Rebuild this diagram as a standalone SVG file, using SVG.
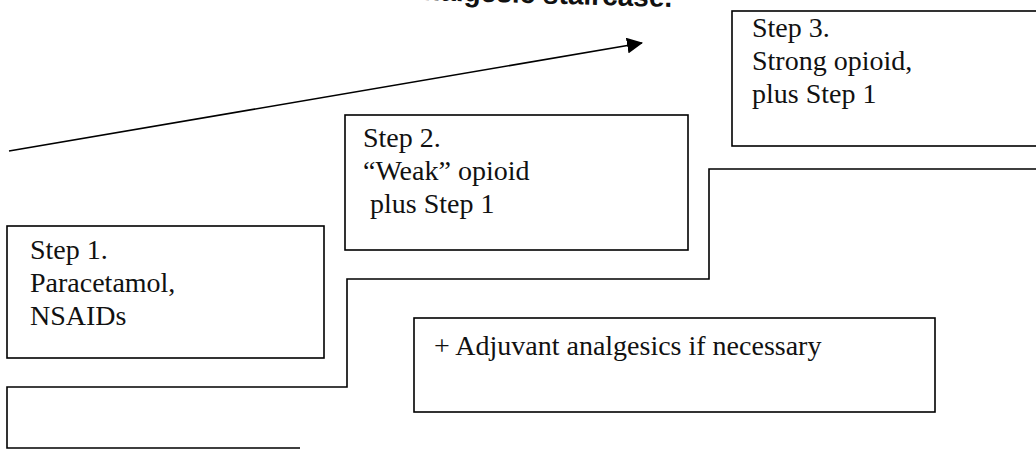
<svg xmlns="http://www.w3.org/2000/svg" width="1036" height="450" viewBox="0 0 1036 450">
<style>
.box{fill:#fff;stroke:#000;stroke-width:1.6}
.t{font-family:"Liberation Serif","Times New Roman",serif;font-size:28px;fill:#111}
.ln{fill:none;stroke:#000;stroke-width:1.6}
.title{font-family:"Liberation Sans",Arial,sans-serif;font-size:28px;font-weight:bold;fill:#111}
</style>
<defs>
<marker id="ah" viewBox="0 0 16 16" refX="15" refY="8" markerWidth="16" markerHeight="16" markerUnits="userSpaceOnUse" orient="auto">
<path d="M0,0 L16,8 L0,16 z" fill="#000"/>
</marker>
</defs>
<rect width="1036" height="450" fill="#fff"/>
<text class="title" x="672" y="7" text-anchor="end" transform="rotate(1.6 672 7)">analgesic staircase.</text>
<g id="connectors">
<line class="ln" x1="9" y1="151" x2="642" y2="43" marker-end="url(#ah)"/>
<polyline class="ln" points="300,448 7,448 7,387 347,387 347,279 709,279 709,169 1036,169"/>
</g>
<g id="step3">
<rect class="box" x="732" y="11" width="320" height="135"/>
<text class="t" x="752" y="37">Step 3.</text>
<text class="t" x="752" y="70">Strong opioid,</text>
<text class="t" x="752" y="103">plus Step 1</text>
</g>
<g id="step2">
<rect class="box" x="345" y="115" width="343" height="135"/>
<text class="t" x="363" y="147">Step 2.</text>
<text class="t" x="363" y="180">“Weak” opioid</text>
<text class="t" x="363" y="213" xml:space="preserve"> plus Step 1</text>
</g>
<g id="step1">
<rect class="box" x="7" y="226" width="317" height="132"/>
<text class="t" x="30" y="259">Step 1.</text>
<text class="t" x="30" y="292">Paracetamol,</text>
<text class="t" x="30" y="325">NSAIDs</text>
</g>
<g id="adjuvant">
<rect class="box" x="414" y="318" width="521" height="94"/>
<text class="t" x="434" y="355">+ Adjuvant analgesics if necessary</text>
</g>
</svg>
